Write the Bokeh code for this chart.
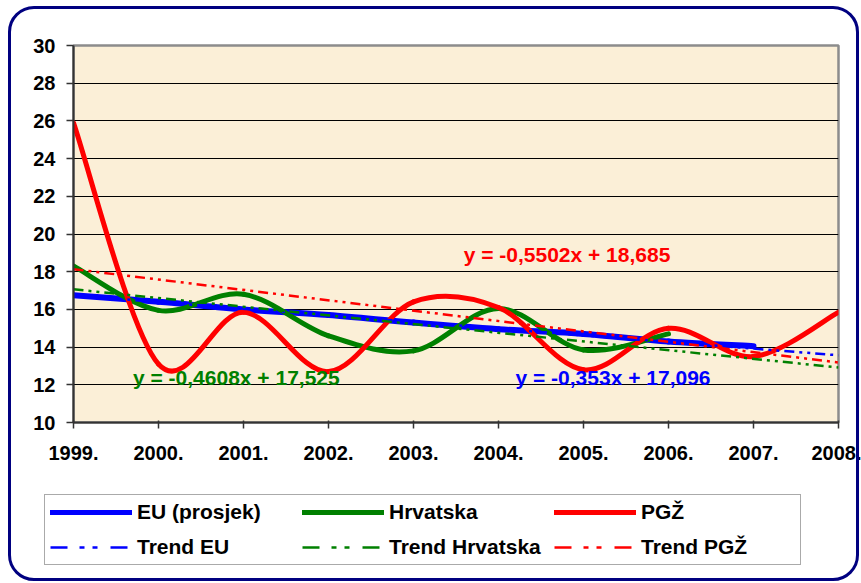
from bokeh.plotting import figure
from bokeh.layouts import column, row
from bokeh.models import (FixedTicker, Legend, LegendItem, Label, Range1d, InlineStyleSheet)
from bokeh.embed import file_html
from bokeh.resources import INLINE

# ---------------- data ----------------
years = ["1999.", "2000.", "2001.", "2002.", "2003.", "2004.", "2005.", "2006.", "2007.", "2008."]
year_idx = [1, 2, 3, 4, 5, 6, 7, 8, 9, 10]

eu = [16.75, 16.4, 16.0, 15.7, 15.3, 14.95, 14.7, 14.3, 14.05]          # EU (prosjek) 1999-2007
hrvatska = [18.3, 15.95, 16.8, 14.6, 13.8, 16.05, 13.85, 14.7]           # Hrvatska 1999-2006
pgz = [25.9, 13.1, 15.85, 12.7, 16.4, 16.1, 12.8, 15.0, 13.5, 15.85]     # PGŽ 1999-2008

eu_slope, eu_intercept = -0.353, 17.096
hr_slope, hr_intercept = -0.4608, 17.525
pgz_slope, pgz_intercept = -0.5502, 18.685

y_ticks = [10, 12, 14, 16, 18, 20, 22, 24, 26, 28, 30]

BLUE, GREEN, RED = "#0000FF", "#008000", "#FF0000"
FONT = "Liberation Sans"
DASH = "10 5 3 5 3 5"
LEG_DASH = "17 12 5 8 5 13"

W = 861
p = figure(width=W, height=488, output_backend="svg", toolbar_location=None,
           x_range=Range1d(1, 10), y_range=Range1d(10, 30),
           min_border_left=73, min_border_right=23, min_border_top=45, min_border_bottom=66)
p.background_fill_color = "#FBEFD7"
p.border_fill_alpha = 0
p.outline_line_color = "#8c8c8c"
p.outline_line_width = 2.5

p.xaxis.ticker = FixedTicker(ticks=year_idx)
p.xaxis.major_label_overrides = {i: y for i, y in zip(year_idx, years)}
p.yaxis.ticker = FixedTicker(ticks=y_ticks)
for ax in (p.xaxis, p.yaxis):
    ax.axis_line_color = "#333333"
    ax.axis_line_width = 2
    ax.major_tick_line_color = "#333333"
    ax.major_tick_line_width = 1.5
    ax.minor_tick_line_color = None
    ax.major_label_text_font = FONT
    ax.major_label_text_font_style = "bold"
    ax.major_label_text_font_size = "20px"
    ax.major_label_text_color = "black"
p.xaxis.major_tick_in = 2
p.xaxis.major_tick_out = 6
p.yaxis.major_tick_in = 0
p.yaxis.major_tick_out = 7
p.xaxis.major_label_standoff = 17
p.yaxis.major_label_standoff = 11

p.xgrid.grid_line_color = None
p.ygrid.ticker = FixedTicker(ticks=y_ticks[1:-1])
p.ygrid.grid_line_color = "black"
p.ygrid.grid_line_width = 1


def smooth_segments(xs, ys):
    """Bezier segments (Catmull-Rom style) through the data points."""
    n = len(xs)
    seg = dict(x0=[], y0=[], x1=[], y1=[], cx0=[], cy0=[], cx1=[], cy1=[])
    for i in range(n - 1):
        xp, yp = (xs[i - 1], ys[i - 1]) if i > 0 else (xs[i], ys[i])
        xn, yn = (xs[i + 2], ys[i + 2]) if i + 2 < n else (xs[i + 1], ys[i + 1])
        seg["x0"].append(xs[i]); seg["y0"].append(ys[i])
        seg["x1"].append(xs[i + 1]); seg["y1"].append(ys[i + 1])
        seg["cx0"].append(xs[i] + (xs[i + 1] - xp) / 6)
        seg["cy0"].append(ys[i] + (ys[i + 1] - yp) / 6)
        seg["cx1"].append(xs[i + 1] - (xn - xs[i]) / 6)
        seg["cy1"].append(ys[i + 1] - (yn - ys[i]) / 6)
    return seg


p.bezier(**smooth_segments(year_idx[:len(eu)], eu), line_color=BLUE, line_width=6, line_cap="round")
p.bezier(**smooth_segments(year_idx[:len(hrvatska)], hrvatska), line_color=GREEN, line_width=5, line_cap="round")
p.bezier(**smooth_segments(year_idx[:len(pgz)], pgz), line_color=RED, line_width=5, line_cap="round")

tx = [year_idx[0], year_idx[-1]]
trends = [(eu_slope, eu_intercept, BLUE), (hr_slope, hr_intercept, GREEN), (pgz_slope, pgz_intercept, RED)]
for s, c, col in trends:
    p.line(tx, [c + s * x for x in tx], line_color=col, line_width=2.5, line_dash=DASH)


def eq(s, c):
    return ("y = " + str(s) + "x + " + str(c)).replace(".", ",")


for txt, col, x, y in [(eq(pgz_slope, pgz_intercept), RED, 5.59, 18.91),
                       (eq(hr_slope, hr_intercept), GREEN, 1.70, 12.39),
                       (eq(eu_slope, eu_intercept), BLUE, 6.20, 12.39)]:
    p.add_layout(Label(x=x, y=y, text=txt, text_color=col, text_font=FONT, text_font_style="bold",
                       text_font_size="21px", text_baseline="middle", text_align="left"))

# ---------------- legend strip (its ranges keep the lines themselves out of view) ----------------
p2 = figure(width=W, height=95, output_backend="svg", toolbar_location=None,
            x_range=Range1d(-100, -99), y_range=Range1d(-100, -99), x_axis_type=None, y_axis_type=None,
            min_border=0)
p2.grid.visible = False
p2.outline_line_color = None
p2.background_fill_alpha = 0
p2.border_fill_alpha = 0

l_eu = p2.line(year_idx[:len(eu)], eu, line_color=BLUE, line_width=5, line_cap="round")
l_hr = p2.line(year_idx[:len(hrvatska)], hrvatska, line_color=GREEN, line_width=5, line_cap="round")
l_pgz = p2.line(year_idx[:len(pgz)], pgz, line_color=RED, line_width=5, line_cap="round")
l_tr = [p2.line(tx, [c + s * x for x in tx], line_color=col, line_width=2.5, line_dash=LEG_DASH)
        for s, c, col in trends]

legend = Legend(items=[
    LegendItem(label="EU (prosjek)", renderers=[l_eu]),
    LegendItem(label="Hrvatska", renderers=[l_hr]),
    LegendItem(label="PGŽ", renderers=[l_pgz]),
    LegendItem(label="Trend EU", renderers=[l_tr[0]]),
    LegendItem(label="Trend Hrvatska", renderers=[l_tr[1]]),
    LegendItem(label="Trend PGŽ", renderers=[l_tr[2]]),
], location=(44, 18), orientation="horizontal", nrows=2)
legend.margin = 0
legend.padding = 5
legend.spacing = 11
legend.glyph_width = 82
legend.glyph_height = 20
legend.label_height = 20
legend.label_width = 154
legend.label_standoff = 5
legend.label_text_font = FONT
legend.label_text_font_style = "bold"
legend.label_text_font_size = "21px"
legend.label_text_color = "black"
legend.border_line_color = "#555555"
legend.border_line_width = 1.5
legend.background_fill_color = "white"
legend.background_fill_alpha = 1
p2.add_layout(legend, "center")

frame_css = InlineStyleSheet(css="""
:host { position: relative; }
:host::after {
  content: ""; position: absolute; left: 8px; top: 6px; right: 2px; bottom: 2px;
  border: 3px solid #000080; border-radius: 26px; pointer-events: none; z-index: 10;
}
""")
layout = column(p, row(p2), spacing=0, stylesheets=[frame_css])

open("out.html", "w").write(file_html(layout, INLINE))
